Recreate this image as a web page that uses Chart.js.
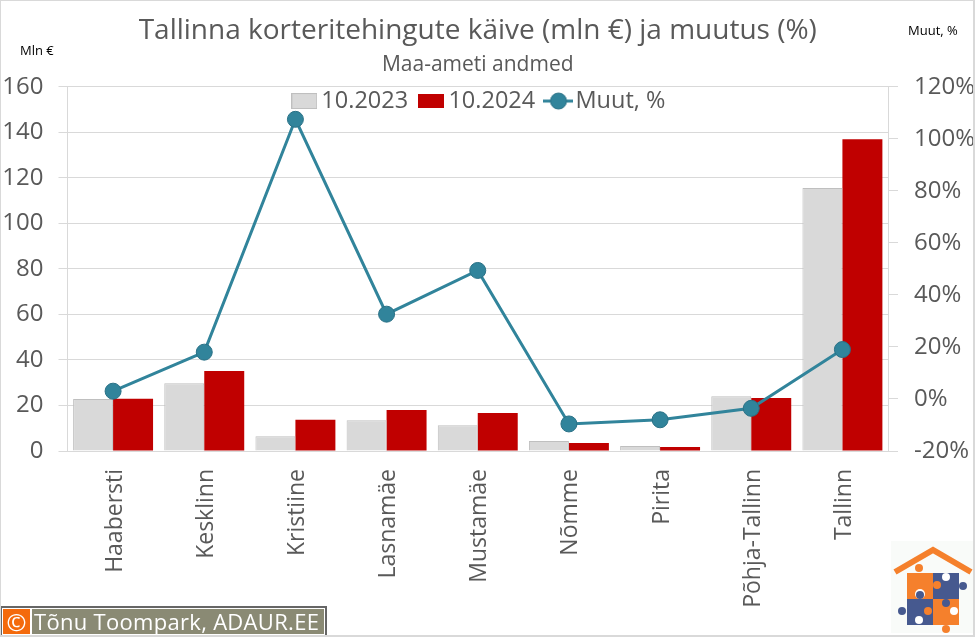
<!DOCTYPE html>
<html><head><meta charset="utf-8">
<style>
html,body{margin:0;padding:0;background:#fff;overflow:hidden}
#wrap{position:relative;width:976px;height:637px;font-family:"Open Sans",sans-serif}
canvas#c{position:absolute;left:0;top:0}
#frame{position:absolute;left:0;top:0;width:972px;height:634px;border:solid #d9d9d9;border-width:1px 2px 2px 1px;pointer-events:none}
.ax{position:absolute;font-size:13px;color:#000;white-space:nowrap;line-height:14px}
#wm{position:absolute;left:0;top:606px;width:321px;height:25px;border:2px solid #666;background:#fff;padding:1px;display:flex;box-sizing:content-box}
#wm b{display:block;width:27px;height:25px;background:#f46a0c;color:#fff;font:400 24px/25px "Open Sans",sans-serif;text-align:center;margin-right:2px}
#wm span{display:block;flex:1;background:#8a8a74;color:#fff;font-size:22px;line-height:25px;padding-left:2px;letter-spacing:.3px;white-space:nowrap;overflow:hidden}
#logo{position:absolute;left:891px;top:541px}
</style>
<script src="https://cdn.jsdelivr.net/npm/chart.js@4/dist/chart.umd.min.js"></script>
</head><body>
<div id="wrap">
<canvas id="c" width="976" height="637"></canvas>
<div class="ax" style="left:20px;top:43px">Mln €</div>
<div class="ax" style="left:908px;top:23px">Muut, %</div>
<div id="wm"><b>©</b><span>Tõnu Toompark, ADAUR.EE</span></div>
<svg id="logo" width="83" height="92" viewBox="891 541 83 92">
<rect x="891" y="541" width="83" height="92" fill="#f9fbf9"/>
<polyline points="895,572 933,550 971,572" fill="none" stroke="#f5802c" stroke-width="6"/>
<rect x="907" y="573" width="26" height="26" fill="#f5802c"/>
<rect x="933" y="573" width="26" height="26" fill="#46598f"/>
<rect x="907" y="599" width="26" height="26" fill="#46598f"/>
<rect x="933" y="599" width="26" height="26" fill="#f5802c"/>
<circle cx="919" cy="568" r="4" fill="#f5802c"/>
<circle cx="946" cy="577" r="4" fill="#fff"/>
<circle cx="963" cy="586" r="4" fill="#46598f"/>
<circle cx="937" cy="585" r="4" fill="#f5802c"/>
<circle cx="920" cy="594" r="5" fill="#fff"/>
<circle cx="920" cy="595" r="4" fill="#46598f"/>
<circle cx="902" cy="611" r="4" fill="#46598f"/>
<circle cx="928" cy="611" r="4" fill="#f5802c"/>
<circle cx="946" cy="603" r="4" fill="#46598f"/>
<circle cx="919" cy="620" r="4" fill="#fff"/>
<circle cx="954" cy="611" r="4" fill="#fff"/>
<circle cx="946" cy="629" r="4" fill="#f5802c"/>
</svg>
</div>
<script>
const categories = ["Haabersti","Kesklinn","Kristiine","Lasnamäe","Mustamäe","Nõmme","Pirita","Põhja-Tallinn","Tallinn"];
const values2023 = [22.8,29.8,6.5,13.5,11.3,4.4,2.2,24,115.5];
const values2024 = [22.9,35.2,13.7,18,16.7,3.5,1.8,23.3,137];
const changePct = [3,18,107.5,32.6,49.4,-9.6,-8,-3.6,19];
const leftTicks = [0,20,40,60,80,100,120,140,160];
const rightTicks = [-20,0,20,40,60,80,100,120];
const seriesNames = ["10.2023","10.2024","Muut, %"];
const titleText = "Tallinna korteritehingute käive (mln €) ja muutus (%)";
const subtitleText = "Maa-ameti andmed";

const GREY="#595959", GRID="#d9d9d9", TEAL="#31849b";
function swatch(w,h,fill,stroke){
  const c=document.createElement('canvas');c.width=w;c.height=h;
  const x=c.getContext('2d');x.fillStyle=fill;x.fillRect(0,0,w,h);
  if(stroke){x.strokeStyle=stroke;x.lineWidth=1;x.strokeRect(.5,.5,w-1,h-1);}
  return c;
}
function lineSwatch(){
  const c=document.createElement('canvas');c.width=30;c.height=20;
  const x=c.getContext('2d');x.strokeStyle=TEAL;x.lineWidth=3;
  x.beginPath();x.moveTo(0,10);x.lineTo(30,10);x.stroke();
  x.fillStyle=TEAL;x.strokeStyle="#2a7186";x.lineWidth=1;
  x.beginPath();x.arc(15,10,8,0,Math.PI*2);x.fill();x.stroke();
  return c;
}
const legendStyles=[swatch(26,16,"#d9d9d9","#bfbfbf"),swatch(26,14,"#c00000"),lineSwatch()];
const fontFam='"Open Sans",sans-serif';
const legendInRow={
  id:'legendInRow',
  beforeLayout(chart){ if(chart.legend) chart.legend.isHorizontal=()=>true; },
  afterLayout(chart){
    const l=chart.legend, a=chart.chartArea;
    if(l){ l.top=a.top-15.5; l.left=a.left+9; l.right=a.right; }
  }
};
new Chart(document.getElementById('c'),{
  plugins:[legendInRow],
  data:{labels:categories,datasets:[
    {type:'bar',label:seriesNames[0],data:values2023,yAxisID:'y',backgroundColor:"#d9d9d9",borderColor:"#bfbfbf",borderWidth:1,barPercentage:1,categoryPercentage:.877,order:2},
    {type:'bar',label:seriesNames[1],data:values2024,yAxisID:'y',backgroundColor:"#c00000",borderWidth:0,barPercentage:1,categoryPercentage:.877,order:2},
    {type:'line',label:seriesNames[2],data:changePct,yAxisID:'y1',borderColor:TEAL,borderWidth:3,pointRadius:8,pointBackgroundColor:TEAL,pointBorderColor:"#2a7186",pointBorderWidth:1,tension:0,order:1}
  ]},
  options:{
    responsive:false,animation:false,devicePixelRatio:1,
    layout:{padding:0},
    plugins:{
      tooltip:{enabled:false},
      title:{display:true,fullSize:false,text:titleText,color:GREY,font:{family:fontFam,size:28,weight:'400'},padding:{top:14,bottom:0}},
      subtitle:{display:true,fullSize:false,text:subtitleText,color:GREY,font:{family:fontFam,size:21,weight:'400'},padding:{top:5,bottom:9}},
      legend:{position:'chartArea',align:'center',labels:{
        usePointStyle:true,pointStyleWidth:10.5,boxHeight:16,padding:18,color:GREY,font:{family:fontFam,size:23.5},
        generateLabels(){return seriesNames.map((t,i)=>({text:t,pointStyle:legendStyles[i],fontColor:GREY,datasetIndex:i,lineWidth:0}));}
      }}
    },
    scales:{
      x:{offset:true,grid:{display:false},border:{color:GRID},
        afterFit(s){s.height=186;},
        ticks:{color:GREY,font:{family:fontFam,size:23},minRotation:90,maxRotation:90,padding:10,labelOffset:2,autoSkip:false}},
      y:{position:'left',min:0,max:160,
        afterFit(s){s.width=67.5;},
        afterBuildTicks(s){s.ticks=leftTicks.map(v=>({value:v}));},
        grid:{color:GRID,tickLength:9,tickColor:GRID},border:{color:GRID},
        ticks:{color:GREY,font:{family:fontFam,size:24},padding:15}},
      y1:{position:'right',min:-20,max:120,
        afterFit(s){s.width=88;},
        afterBuildTicks(s){s.ticks=rightTicks.map(v=>({value:v}));},
        grid:{drawOnChartArea:false,tickLength:10,tickColor:GRID},border:{color:GRID},
        ticks:{color:GREY,font:{family:fontFam,size:24},padding:16,callback:v=>v+"%"}}
    }
  }
});
</script>
<div id="frame"></div>
</body></html>
